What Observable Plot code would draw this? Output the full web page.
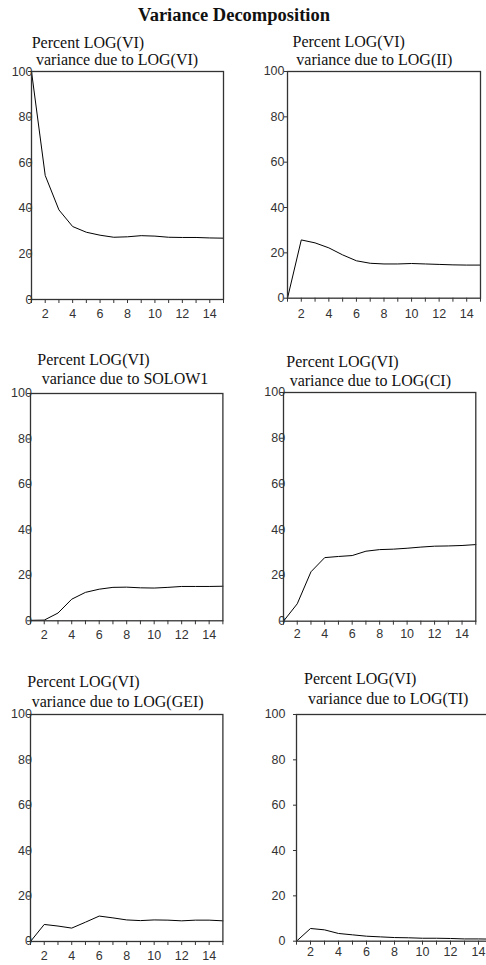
<!DOCTYPE html>
<html>
<head>
<meta charset="utf-8">
<script src="https://cdn.jsdelivr.net/npm/d3@7"></script>
<script src="https://cdn.jsdelivr.net/npm/@observablehq/plot@0.6"></script>
<style>
  html, body { margin: 0; padding: 0; background: #fff; }
  #root { position: relative; width: 486px; height: 965px; overflow: hidden; background: #fff; }
  .t { position: absolute; white-space: pre; font-family: "Liberation Serif", "Times New Roman", serif; color: #111; line-height: 1; }
  .main { font-weight: bold; font-size: 18.5px; }
  .sub { font-size: 16px; }
  .panel { position: absolute; }
</style>
</head>
<body>
<div id="root"></div>
<script>
// ---- data ----
const chartTitle = "Variance Decomposition";
const titleLine1 = "Percent LOG(VI)";
const titleLine2 = [
  "variance due to LOG(VI)",
  "variance due to LOG(II)",
  "variance due to SOLOW1",
  "variance due to LOG(CI)",
  "variance due to LOG(GEI)",
  "variance due to LOG(TI)"
];
const steps = [1, 2, 3, 4, 5, 6, 7, 8, 9, 10, 11, 12, 13, 14, 15];
const xTicks = [1, 2, 3, 4, 5, 6, 7, 8, 9, 10, 11, 12, 13, 14, 15];
const xTickLabels = [2, 4, 6, 8, 10, 12, 14];
const yTicks = [0, 20, 40, 60, 80, 100];

const vi     = [100, 54.4, 39.3, 32.0, 29.5, 28.2, 27.3, 27.5, 28.0, 27.8, 27.3, 27.2, 27.2, 27.0, 26.9];
const ii     = [0, 25.7, 24.4, 22.2, 19.1, 16.5, 15.4, 15.1, 15.1, 15.3, 15.1, 14.9, 14.7, 14.6, 14.6];
const solow1 = [0.2, 0.3, 3.4, 9.5, 12.5, 13.9, 14.7, 14.8, 14.5, 14.4, 14.7, 15.1, 15.1, 15.1, 15.2];
const ci     = [0, 7.6, 21.6, 27.8, 28.3, 28.7, 30.6, 31.3, 31.5, 31.9, 32.4, 32.8, 32.9, 33.1, 33.5];
const gei    = [0, 7.5, 6.8, 5.9, 8.5, 11.2, 10.4, 9.5, 9.2, 9.5, 9.4, 9.1, 9.4, 9.4, 9.1];
const ti     = [0, 5.6, 5.0, 3.4, 2.8, 2.2, 1.9, 1.6, 1.5, 1.3, 1.3, 1.2, 1.0, 1.0, 0.9];
const series = [vi, ii, solow1, ci, gei, ti];

// ---- layout (frame edges and text anchors, in page px) ----
const layout = [
  {fl: 30.7,  fr: 222.7, ft: 71,    fb: 299,   yPad: -4,   xPad: 5.7, t1: [31.7, 43],   t2: [36, 60]},
  {fl: 287.3, fr: 480.3, ft: 71,    fb: 297.7, yPad: 0,    xPad: 7.3, t1: [292.5, 42],  t2: [296.3, 59.5]},
  {fl: 30.3,  fr: 222.7, ft: 392.7, fb: 620,   yPad: -4.4, xPad: 5,   t1: [37.3, 359.5],t2: [41.7, 379.3]},
  {fl: 283,   fr: 475.3, ft: 392.3, fb: 621,   yPad: -4.7, xPad: 4,   t1: [286.3, 361.7],t2: [289.7, 381]},
  {fl: 30.3,  fr: 222.7, ft: 714,   fb: 941,   yPad: -4.4, xPad: 5.7, t1: [27.3, 681.7],t2: [31.7, 701.7]},
  {fl: 295.7, fr: 491.7, ft: 714,   fb: 940.7, yPad: 8,    xPad: 1.7, t1: [304, 679.3], t2: [308, 699.3]}
];

const root = document.getElementById("root");

function addText(txt, cls, x, y) {
  const d = document.createElement("div");
  d.className = "t " + cls;
  d.textContent = txt;
  d.style.left = x + "px";
  d.style.top = y + "px";
  root.appendChild(d);
  return d;
}

const mt = addText(chartTitle, "main", 0, 5.8);
mt.style.left = "0px"; mt.style.width = "468px"; mt.style.textAlign = "center";

const mL = 36, mR = 6, mT = 8, mB = 28;

series.forEach((vals, i) => {
  const L = layout[i];
  addText(titleLine1, "sub", L.t1[0], L.t1[1] - 8);
  addText(titleLine2[i], "sub", L.t2[0], L.t2[1] - 8);

  const data = steps.map((s, k) => ({step: s, value: vals[k]}));
  const plot = Plot.plot({
    width: (L.fr - L.fl) + mL + mR,
    height: (L.fb - L.ft) + mT + mB,
    marginLeft: mL, marginRight: mR, marginTop: mT, marginBottom: mB,
    x: {domain: [1, 15]},
    y: {domain: [0, 100]},
    style: {fontFamily: "'Liberation Sans', Arial, sans-serif", fontSize: "12.5px", color: "#333", background: "transparent", overflow: "visible"},
    marks: [
      Plot.axisY({ticks: yTicks, tickSize: 3, tickPadding: L.yPad, label: null, stroke: "#333"}),
      Plot.axisX({ticks: xTicks, tickSize: 4, tickPadding: L.xPad, label: null, stroke: "#333",
                  tickFormat: d => xTickLabels.includes(d) ? String(d) : ""}),
      Plot.line(data, {x: "step", y: "value", stroke: "#000", strokeWidth: 1}),
      Plot.frame({stroke: "#333", strokeWidth: 1.3})
    ]
  });
  plot.classList.add("panel");
  plot.style.left = (L.fl - mL) + "px";
  plot.style.top = (L.ft - mT) + "px";
  root.appendChild(plot);
});
</script>
</body>
</html>
